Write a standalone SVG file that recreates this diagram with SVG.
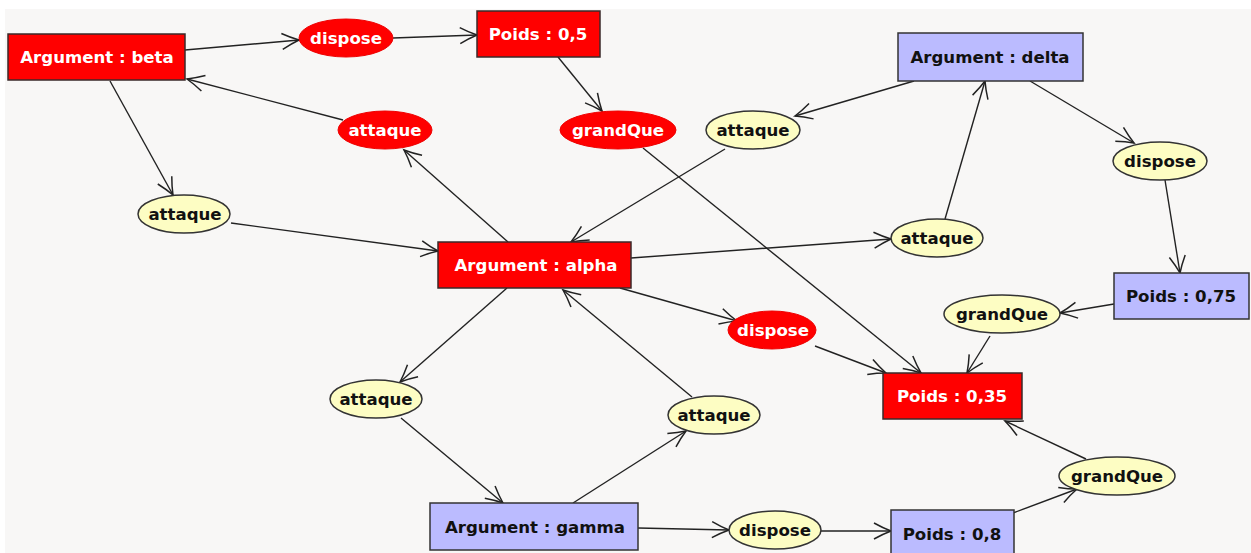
<svg xmlns="http://www.w3.org/2000/svg" width="1251" height="553" viewBox="0 0 1251 553">
<defs>
<marker id="arr" markerUnits="userSpaceOnUse" markerWidth="24" markerHeight="24" viewBox="-20 -12 24 24" refX="0" refY="0" orient="auto">
<path d="M-17,-8 Q-8,-3 0,0 Q-8,3 -17,8" fill="none" stroke="#222" stroke-width="1.5" stroke-linejoin="miter"/>
</marker>
<style>
.bg{fill:#f8f7f6}
.e{stroke:#222;stroke-width:1.4;fill:none;marker-end:url(#arr)}
.rr{fill:#ff0000;stroke:#3a2a2a;stroke-width:1.5}
.br{fill:#bbbbff;stroke:#333;stroke-width:1.5}
.re{fill:#ff0000;stroke:#ee0000;stroke-width:1}
.ye{fill:#fdfdc3;stroke:#333;stroke-width:1.5}
text{font-family:"DejaVu Sans","Liberation Sans",sans-serif;font-weight:bold;font-size:16.6px;text-anchor:middle;dominant-baseline:central}
.w{fill:#fff}
.k{fill:#111}
</style>
</defs>
<rect x="0" y="0" width="1251" height="553" fill="#fff"/>
<rect class="bg" x="5" y="9" width="1246" height="544"/>
<g id="connectors">
<line class="e" x1="185" y1="50" x2="299" y2="40"/>
<line class="e" x1="393" y1="38" x2="477" y2="35"/>
<line class="e" x1="558" y1="57" x2="602" y2="111"/>
<line class="e" x1="643" y1="148" x2="921" y2="373"/>
<line class="e" x1="343" y1="120" x2="187" y2="79"/>
<line class="e" x1="508" y1="242" x2="404" y2="150"/>
<line class="e" x1="110" y1="81" x2="173" y2="195"/>
<line class="e" x1="231" y1="223" x2="438" y2="251"/>
<line class="e" x1="725" y1="149" x2="571" y2="242"/>
<line class="e" x1="914" y1="81" x2="795" y2="116"/>
<line class="e" x1="945" y1="219" x2="985" y2="81"/>
<line class="e" x1="631" y1="258" x2="891" y2="239"/>
<line class="e" x1="1030" y1="81" x2="1134" y2="143"/>
<line class="e" x1="1165" y1="180" x2="1180" y2="273"/>
<line class="e" x1="1114" y1="304" x2="1060" y2="313"/>
<line class="e" x1="990" y1="336" x2="967" y2="373"/>
<line class="e" x1="620" y1="288" x2="737" y2="321"/>
<line class="e" x1="815" y1="346" x2="886" y2="373"/>
<line class="e" x1="507" y1="288" x2="400" y2="382"/>
<line class="e" x1="401" y1="418" x2="503" y2="503"/>
<line class="e" x1="573" y1="503" x2="686" y2="431"/>
<line class="e" x1="692" y1="397" x2="563" y2="290"/>
<line class="e" x1="638" y1="528" x2="729" y2="530"/>
<line class="e" x1="820" y1="531" x2="891" y2="531"/>
<line class="e" x1="1013" y1="513" x2="1077" y2="489"/>
<line class="e" x1="1086" y1="459" x2="1005" y2="421"/>
</g>
<g id="beta"><rect class="rr" x="8" y="34" width="177" height="46"/><text class="w" x="97" y="57">Argument : beta</text></g>
<g id="dispose1"><ellipse class="re" cx="346" cy="38" rx="47" ry="19"/><text class="w" x="346" y="38">dispose</text></g>
<g id="poids05"><rect class="rr" x="477" y="11" width="123" height="46"/><text class="w" x="538" y="34">Poids : 0,5</text></g>
<g id="grandque1"><ellipse class="re" cx="618" cy="130" rx="58" ry="19"/><text class="w" x="618" y="130">grandQue</text></g>
<g id="attaque1"><ellipse class="re" cx="385" cy="130" rx="47" ry="19"/><text class="w" x="385" y="130">attaque</text></g>
<g id="attaque2"><ellipse class="ye" cx="753" cy="130" rx="47" ry="19"/><text class="k" x="753" y="130">attaque</text></g>
<g id="attaque3"><ellipse class="ye" cx="184" cy="214" rx="46" ry="19"/><text class="k" x="185" y="214">attaque</text></g>
<g id="delta"><rect class="br" x="898" y="33" width="185" height="48"/><text class="k" x="990" y="57">Argument : delta</text></g>
<g id="dispose2"><ellipse class="ye" cx="1160" cy="161" rx="47" ry="19"/><text class="k" x="1160" y="161">dispose</text></g>
<g id="attaque4"><ellipse class="ye" cx="937" cy="238" rx="46" ry="19"/><text class="k" x="937" y="238">attaque</text></g>
<g id="alpha"><rect class="rr" x="438" y="242" width="193" height="46"/><text class="w" x="536" y="265">Argument : alpha</text></g>
<g id="poids075"><rect class="br" x="1114" y="273" width="135" height="46"/><text class="k" x="1181" y="296">Poids : 0,75</text></g>
<g id="grandque2"><ellipse class="ye" cx="1002" cy="314" rx="58" ry="19"/><text class="k" x="1002" y="314">grandQue</text></g>
<g id="dispose3"><ellipse class="re" cx="772" cy="330" rx="44" ry="19"/><text class="w" x="773" y="330">dispose</text></g>
<g id="poids035"><rect class="rr" x="883" y="373" width="139" height="46"/><text class="w" x="952" y="396">Poids : 0,35</text></g>
<g id="attaque5"><ellipse class="ye" cx="376" cy="399" rx="46" ry="19"/><text class="k" x="376" y="399">attaque</text></g>
<g id="attaque6"><ellipse class="ye" cx="714" cy="415" rx="46" ry="19"/><text class="k" x="714" y="415">attaque</text></g>
<g id="grandque3"><ellipse class="ye" cx="1117" cy="476" rx="58" ry="19"/><text class="k" x="1117" y="476">grandQue</text></g>
<g id="gamma"><rect class="br" x="430" y="503" width="208" height="47"/><text class="k" x="535" y="527">Argument : gamma</text></g>
<g id="dispose4"><ellipse class="ye" cx="775" cy="530" rx="46" ry="19"/><text class="k" x="775" y="530">dispose</text></g>
<g id="poids08"><rect class="br" x="891" y="510" width="123" height="48"/><text class="k" x="952" y="534">Poids : 0,8</text></g>
</svg>
